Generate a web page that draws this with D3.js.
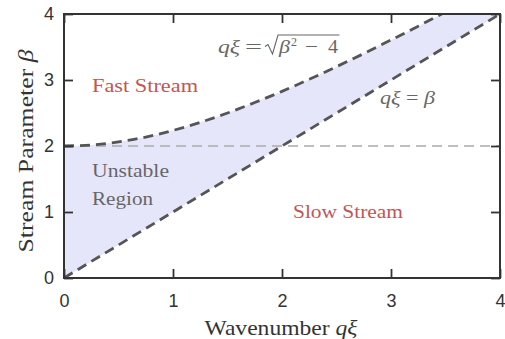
<!DOCTYPE html>
<html><head><meta charset="utf-8">
<script src="https://cdn.jsdelivr.net/npm/d3@7"></script>
<style>
html,body{margin:0;padding:0;background:#fff;}
svg{display:block;}
</style></head>
<body>
<script>
// ---- data ----
const wavenumber = [0, 0.25, 0.5, 0.75, 1, 1.25, 1.5, 1.75, 2, 2.25, 2.5, 2.75, 3, 3.25, 3.5, 3.75, 4];
const upperBeta  = [2, 2.016, 2.062, 2.136, 2.236, 2.358, 2.5, 2.658, 2.828, 3.010, 3.202, 3.400, 3.606, 3.816, 4.031, 4.250, 4.472];
const lowerBeta  = [0, 0.25, 0.5, 0.75, 1, 1.25, 1.5, 1.75, 2, 2.25, 2.5, 2.75, 3, 3.25, 3.5, 3.75, 4];
const thresholdBeta = 2;
const xTicks = [0, 1, 2, 3, 4];
const yTicks = [0, 1, 2, 3, 4];

const W = 505, H = 339;
const m = {left: 64, right: 5, top: 14, bottom: 61};
const svg = d3.select("body").append("svg").attr("width", W).attr("height", H);

const x = d3.scaleLinear().domain([0, 4]).range([m.left, W - m.right]);
const y = d3.scaleLinear().domain([0, 4]).range([H - m.bottom, m.top]);

svg.append("clipPath").attr("id", "clip").append("rect")
  .attr("x", x(0)).attr("y", y(4)).attr("width", x(4) - x(0)).attr("height", y(0) - y(4));

const g = svg.append("g").attr("clip-path", "url(#clip)");
const pts = wavenumber.map((q, i) => ({q, up: upperBeta[i], lo: lowerBeta[i]}));

g.append("path").datum(pts)
  .attr("fill", "#e6e6fb")
  .attr("d", d3.area().x(d => x(d.q)).y0(d => y(d.lo)).y1(d => y(d.up)).curve(d3.curveMonotoneX));

g.append("line")
  .attr("x1", x(0)).attr("x2", x(4)).attr("y1", y(thresholdBeta)).attr("y2", y(thresholdBeta))
  .attr("stroke", "#aaaaaa").attr("stroke-width", 1.6).attr("stroke-dasharray", "10,6");

g.append("path").datum(pts)
  .attr("fill", "none").attr("stroke", "#555").attr("stroke-width", 2.8).attr("stroke-dasharray", "10,6")
  .attr("d", d3.line().x(d => x(d.q)).y(d => y(d.up)).curve(d3.curveMonotoneX));

g.append("path").datum(pts)
  .attr("fill", "none").attr("stroke", "#555").attr("stroke-width", 2.8).attr("stroke-dasharray", "10,6")
  .attr("d", d3.line().x(d => x(d.q)).y(d => y(d.lo)));

// axes
const tickLen = 9;
const axStyle = sel => {
  sel.select(".domain").remove();
  sel.selectAll(".tick line").attr("stroke", "#333").attr("stroke-width", 1.8);
  sel.selectAll(".tick text").attr("fill", "#333").style("font-family", "'Liberation Sans', Arial, sans-serif").style("font-size", "18px");
};
svg.append("g").attr("transform", `translate(0,${y(0)})`)
  .call(d3.axisBottom(x).tickValues(xTicks).tickFormat(d3.format("d")).tickSizeInner(-tickLen).tickSizeOuter(0).tickPadding(16))
  .call(axStyle);
svg.append("g").attr("transform", `translate(0,${y(4)})`)
  .call(d3.axisTop(x).tickValues(xTicks).tickFormat("").tickSizeInner(-tickLen).tickSizeOuter(0))
  .call(axStyle);
svg.append("g").attr("transform", `translate(${x(0)},0)`)
  .call(d3.axisLeft(y).tickValues(yTicks).tickFormat(d3.format("d")).tickSizeInner(-tickLen).tickSizeOuter(0).tickPadding(10))
  .call(axStyle);
svg.append("g").attr("transform", `translate(${x(4)},0)`)
  .call(d3.axisRight(y).tickValues(yTicks).tickFormat("").tickSizeInner(-tickLen).tickSizeOuter(0))
  .call(axStyle);

svg.append("rect").attr("x", x(0)).attr("y", y(4)).attr("width", x(4) - x(0)).attr("height", y(0) - y(4))
  .attr("fill", "none").attr("stroke", "#333").attr("stroke-width", 2);

const serif = "'Liberation Serif', 'Times New Roman', serif";
// axis titles
const xt = svg.append("text").attr("x", 281).attr("y", 335).attr("text-anchor", "middle")
  .attr("textLength", 153).attr("lengthAdjust", "spacingAndGlyphs")
  .style("font-family", serif).style("font-size", "21px").attr("fill", "#333");
xt.append("tspan").text("Wavenumber ");
xt.append("tspan").attr("font-style", "italic").text("qξ");

const yt = svg.append("text").attr("transform", `translate(33,151) rotate(-90)`).attr("text-anchor", "middle")
  .attr("textLength", 203).attr("lengthAdjust", "spacingAndGlyphs")
  .style("font-family", serif).style("font-size", "21px").attr("fill", "#333");
yt.append("tspan").text("Stream Parameter ");
yt.append("tspan").attr("font-style", "italic").text("β");

// annotations
const ann = (tx, ty, txt, col, len) => {
  const t = svg.append("text").attr("x", tx).attr("y", ty).text(txt)
    .style("font-family", serif).style("font-size", "18px").attr("fill", col);
  if (len) t.attr("textLength", len).attr("lengthAdjust", "spacingAndGlyphs");
  return t;
};
ann(92, 92, "Fast Stream", "#c05656", 106);
ann(293, 218, "Slow Stream", "#c05656", 110);
ann(92, 177, "Unstable", "#666", 77);
ann(92, 205, "Region", "#666", 61);

// formula labels
const fcol = "#666";
const piece = (tx, ty, txt, italic, size, len) => {
  const t = svg.append("text").attr("x", tx).attr("y", ty).text(txt)
    .style("font-family", serif).style("font-size", (size || 18) + "px").attr("fill", fcol);
  if (italic) t.attr("font-style", "italic");
  if (len) t.attr("textLength", len).attr("lengthAdjust", "spacingAndGlyphs");
  return t;
};
const fb = 53;
piece(218, fb, "qξ", true, 19, 22);
piece(245, fb, "=", false, 19, 17);
// radical sign
svg.append("path").attr("d", "M265,46.5 L268,44.5 L272.5,54 L278,35 L339.5,35")
  .attr("fill", "none").attr("stroke", fcol).attr("stroke-width", 1.1).attr("stroke-linejoin", "miter");
piece(279, fb, "β", true, 19, 11);
piece(291, fb - 7, "2", false, 12, 6);
piece(305, fb, "−", false, 19, 13);
piece(328, fb, "4", false, 19, 10);

const f2 = svg.append("text").attr("x", 380).attr("y", 104)
  .attr("textLength", 55).attr("lengthAdjust", "spacingAndGlyphs")
  .style("font-family", serif).style("font-size", "19px").attr("fill", fcol);
f2.append("tspan").attr("font-style", "italic").text("qξ");
f2.append("tspan").text(" = ");
f2.append("tspan").attr("font-style", "italic").text("β");
</script>
</body></html>
